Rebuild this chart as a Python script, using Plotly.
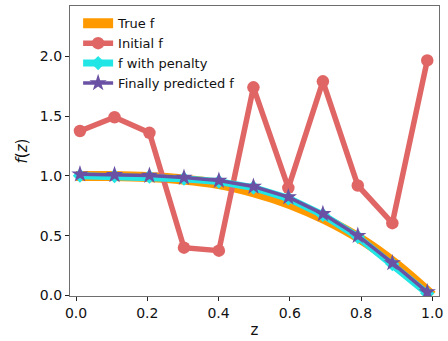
import plotly.graph_objects as go

# ---- data ----
z_true = [0.0, 0.1, 0.2, 0.3, 0.4, 0.5, 0.6, 0.7, 0.8, 0.9, 1.0]
f_true = [1.0, 0.998, 0.99, 0.97, 0.932, 0.862, 0.765, 0.635, 0.47, 0.258, 0.0]

z_pts = [0.011, 0.108, 0.206, 0.303, 0.401, 0.498, 0.596, 0.693, 0.791, 0.888, 0.986]
f_initial = [1.375, 1.49, 1.36, 0.40, 0.375, 1.74, 0.90, 1.79, 0.92, 0.605, 1.965]
f_penalty = [1.002, 0.998, 0.993, 0.977, 0.952, 0.902, 0.812, 0.674, 0.491, 0.263, 0.018]
f_pred = [1.014, 1.008, 1.003, 0.986, 0.961, 0.911, 0.822, 0.683, 0.500, 0.272, 0.028]

x_ticks = [0.0, 0.2, 0.4, 0.6, 0.8, 1.0]
y_ticks = [0.0, 0.5, 1.0, 1.5, 2.0]

ORANGE = "#FF9900"
RED = "#E06666"
CYAN = "#22E6E6"
PURPLE = "#6A51A3"
FONT = "DejaVu Sans"

fig = go.Figure()
fig.add_trace(go.Scatter(x=z_true, y=f_true, mode="lines", name="True f",
                         line=dict(color=ORANGE, width=10, shape="spline")))
fig.add_trace(go.Scatter(x=z_pts, y=f_initial, mode="lines+markers", name="Initial f",
                         line=dict(color=RED, width=5.5),
                         marker=dict(symbol="circle", size=12.5, color=RED)))
fig.add_trace(go.Scatter(x=z_pts, y=f_penalty, mode="lines+markers", name="f with penalty",
                         line=dict(color=CYAN, width=7),
                         marker=dict(symbol="diamond", size=11, color=CYAN)))
fig.add_trace(go.Scatter(x=z_pts, y=f_pred, mode="lines+markers", name="Finally predicted f",
                         line=dict(color=PURPLE, width=3.5),
                         marker=dict(symbol="star", size=13, color=PURPLE)))

axis_common = dict(
    showline=True, mirror=True, linecolor="#6e6e6e", linewidth=1.2,
    ticks="outside", ticklen=4, tickwidth=1, tickcolor="#222",
    showgrid=False, zeroline=False, tickformat=".1f",
    tickfont=dict(family=FONT, size=14, color="#111"),
)

fig.update_layout(
    width=448, height=341,
    margin=dict(l=70, r=5, t=6, b=45),
    plot_bgcolor="white", paper_bgcolor="white",
    font=dict(family=FONT, size=14, color="#111"),
    showlegend=True,
    legend=dict(x=0.022, y=0.992, xanchor="left", yanchor="top",
                bgcolor="rgba(0,0,0,0)", font=dict(family=FONT, size=13, color="#111"),
                tracegroupgap=0),
    xaxis=dict(range=[-0.017, 1.019], tickvals=x_ticks,
               title=dict(text="z", font=dict(family=FONT, size=15), standoff=4),
               **axis_common),
    yaxis=dict(range=[-0.004, 2.42], tickvals=y_ticks,
               title=dict(text="<i>f</i>(<i>z</i>)", font=dict(family=FONT, size=15), standoff=8),
               **axis_common),
)

fig.write_html("out.html")
